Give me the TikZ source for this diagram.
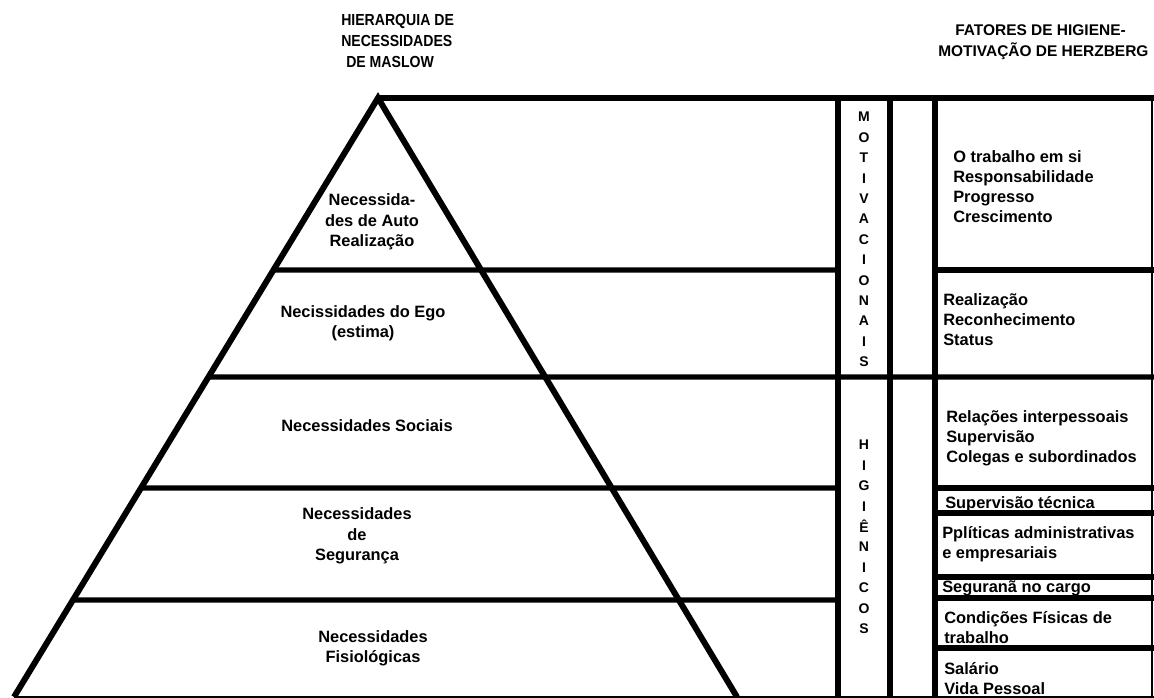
\documentclass[tikz,border=0pt]{standalone}
\usepackage{fontspec}
\setmainfont{Liberation Sans}
\newfontfamily\narrowfont[FakeStretch=0.88]{Liberation Sans}
\usetikzlibrary{calc}
\tikzset{thickline/.style={line width=4pt},sideline/.style={line width=4.5pt},
 thinline/.style={line width=1.2pt},
 level/.style={font=\bfseries\fontsize{12.3}{15.3}\selectfont,align=center,inner sep=0pt},
 factor/.style={font=\bfseries\fontsize{12.3}{15}\selectfont,align=left,anchor=west,inner sep=0pt},
 title/.style={font=\narrowfont\bfseries\fontsize{12}{15.5}\selectfont,inner sep=0pt},
 letter/.style={font=\bfseries\fontsize{10.5}{11}\selectfont,inner sep=0pt}}

\begin{document}
\begin{tikzpicture}[x=0.75pt,y=-0.75pt]
\useasboundingbox (0,0) rectangle (1154,698);
% titulos
\node[title,align=left,anchor=west] (maslow) at (341,41)
 {HIERARQUIA DE\\NECESSIDADES\\\hspace*{3.75pt}DE MASLOW};
\node[title,align=left,anchor=west,font=\bfseries\fontsize{11.6}{15.5}\selectfont] (herzberg) at (938,42)
 {\hspace*{12.75pt}FATORES DE HIGIENE-\\MOTIVAÇÃO DE HERZBERG};
% piramide
\coordinate (apex) at (378,98);
\coordinate (lbase) at (14,697);
\coordinate (rbase) at (737,697);
\draw[sideline,line join=miter] (lbase) -- (apex) -- (rbase);
\draw[thinline] (lbase) -- (1154,697);
\draw[thickline] (apex) -- (1154,98);
\foreach \y/\r in {270/838,377/1154,488/838,600/838}
 {\draw[thickline] ($(apex)!{(\y-98)/599}!(lbase)$) -- (\r,\y);}
% colunas
\foreach \x in {838,890,935}\draw[thickline] (\x,98) -- (\x,697);
\draw[line width=2.2pt] (1152,98) -- (1152,697);
% niveis de Maslow
\node[level] (auto) at (372,222) {Necessida-\\des de Auto\\Realização};
\node[level] (ego) at (363,323) {Necissidades do Ego\\(estima)};
\node[level] (sociais) at (367,426) {Necessidades Sociais};
\node[level] (seguranca) at (357,536) {Necessidades\\de\\Segurança};
\node[level] (fisio) at (373,648) {Necessidades\\Fisiológicas};
% letras verticais
\foreach \ch [count=\k from 0] in {M,O,T,I,V,A,C,I,O,N,A,I,S}
 {\node[letter] (mot\k) at (864,117+20.4*\k) {\ch};}
\foreach \ch [count=\k from 0] in {H,I,G,I,Ê,N,I,C,O,S}
 {\node[letter] (hig\k) at (864,445+20.4*\k) {\ch};}
% fatores de Herzberg
\node[factor] (trabalho) at (953,187)
 {O trabalho em si\\Responsabilidade\\Progresso\\Crescimento};
\node[factor] (realizacao) at (943,320) {Realização\\Reconhecimento\\Status};
\node[factor] (relacoes) at (946,438)
 {Relações interpessoais\\Supervisão\\Colegas e subordinados};
\node[factor] (tecnica) at (945,504) {Supervisão técnica};
\node[factor] (politicas) at (942,544) {Pplíticas administrativas\\e empresariais};
\node[factor] (cargo) at (942,588) {Seguranã no cargo};
\node[factor] (condicoes) at (944,628) {Condições Físicas de\\trabalho};
\node[factor] (salario) at (944,679) {Salário\\Vida Pessoal};
\foreach \y in {270,488,513,577,598,648}\draw[thickline] (935,\y) -- (1154,\y);
\end{tikzpicture}
\end{document}
